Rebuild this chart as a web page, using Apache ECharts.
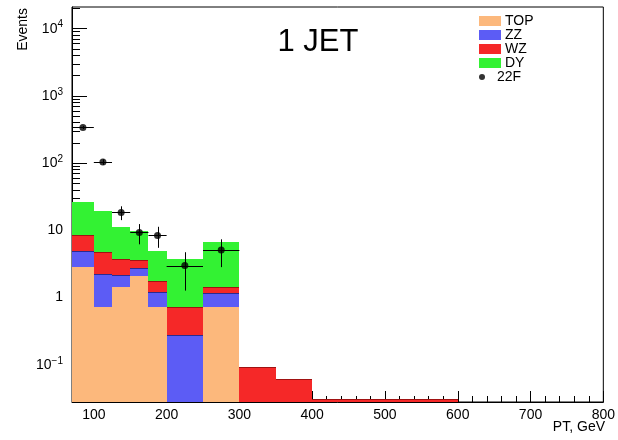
<!DOCTYPE html>
<html>
<head>
<meta charset="utf-8">
<script src="https://cdn.jsdelivr.net/npm/echarts@6/dist/echarts.min.js"></script>
<style>
html,body{margin:0;padding:0;background:#fff;}
#chart{width:618px;height:440px;}
</style>
</head>
<body>
<div id="chart"></div>
<script>
// ---- data ----
var binLo = [70, 100, 125, 150, 175, 200, 250, 300, 350, 400];
var binHi = [100, 125, 150, 175, 200, 250, 300, 350, 400, 600];
var topVals = [2.9, 0.72, 1.46, 2.13, 0.72, 0, 0.72, 0, 0, 0];
var zzVals  = [2.07, 1.51, 0.70, 0.61, 0.50, 0.278, 0.47, 0, 0, 0];
var wzVals  = [3.6, 2.52, 1.61, 0.87, 0.55, 0.456, 0.24, 0.092, 0.061, 0.031];
var dyVals  = [17.5, 14.85, 7.43, 6.25, 3.2, 3.08, 5.17, 0, 0, 0];

var dataX   = [85, 112.5, 137.5, 162.5, 187.5, 225, 275];
var dataLo  = [70, 100, 125, 150, 175, 200, 250];
var dataHi  = [100, 125, 150, 175, 200, 250, 300];
var dataY   = [340, 104, 18.5, 9.3, 8.4, 3.0, 5.1];
var dataErr = [18, 10, 4.3, 3.1, 2.9, 1.73, 2.26];

var xTickLabels = [100, 200, 300, 400, 500, 600, 700, 800];
var yTickValues = [0.1, 1, 10, 100, 1000, 10000];
var yTickLabels = ['{b|10}{s|\u22121}', '1', '10', '{b|10}{s|2}', '{b|10}{s|3}', '{b|10}{s|4}'];

var X_MIN = 70, X_MAX = 800, Y_MIN = 0.028, Y_MAX = 21000;
var FONT = 'Liberation Sans, Arial, Helvetica, sans-serif';

// minor tick positions
var xMinor = [];
for (var v = 80; v < X_MAX; v += 20) xMinor.push(v);
var yMinor = [];
for (var e = -2; e <= 4; e++) {
  for (var m = 2; m <= 9; m++) {
    var val = m * Math.pow(10, e);
    if (val > Y_MIN && val < Y_MAX) yMinor.push(val);
  }
}

// stacking
var comps = [
  {name: 'TOP', vals: topVals, color: '#fcb87c', edge: null},
  {name: 'ZZ',  vals: zzVals,  color: '#5c5cf5', edge: '#2a2a90'},
  {name: 'WZ',  vals: wzVals,  color: '#f52828', edge: '#a01212'},
  {name: 'DY',  vals: dyVals,  color: '#33f233', edge: null}
];
var cum = binLo.map(function(){return 0;});
var series = [];
comps.forEach(function(c){
  var d = [];
  for (var i = 0; i < binLo.length; i++) {
    var v = c.vals[i];
    if (v > 0) {
      var base = cum[i] > 0 ? cum[i] : Y_MIN;
      d.push([binLo[i], binHi[i], base, cum[i] + v]);
      cum[i] += v;
    }
  }
  series.push({
    name: c.name,
    type: 'custom',
    clip: true,
    itemStyle: {color: c.color},
    encode: {x: [0, 1], y: [2, 3]},
    data: d,
    renderItem: (function(col, edge){
      return function(params, api){
        var p1 = api.coord([api.value(0), api.value(3)]);
        var p2 = api.coord([api.value(1), api.value(2)]);
        var x1 = Math.round(p1[0]), x2 = Math.round(p2[0]);
        var y1 = Math.round(p1[1]), y2 = Math.round(p2[1]);
        var ch = [{
          type: 'rect',
          shape: {x: x1, y: y1, width: x2 - x1, height: y2 - y1},
          style: {fill: col}
        }];
        if (edge) {
          ch.push({type: 'line', shape: {x1: x1, y1: y1 + 0.5, x2: x2, y2: y1 + 0.5},
                   style: {stroke: edge, lineWidth: 1}});
        }
        return {type: 'group', children: ch};
      };
    })(c.color, c.edge)
  });
});

// error bars for data
var errData = dataX.map(function(x, i){ return [x, dataY[i], dataLo[i], dataHi[i], dataErr[i]]; });
series.push({
  name: '22F err',
  type: 'custom',
  clip: true,
  encode: {x: 0, y: 1},
  data: errData,
  renderItem: function(params, api){
    var x = api.value(0), y = api.value(1), lo = api.value(2), hi = api.value(3), er = api.value(4);
    var a = api.coord([lo, y]), b = api.coord([hi, y]);
    var c = api.coord([x, Math.max(y - er, Y_MIN)]), d = api.coord([x, y + er]);
    var yy = Math.round(a[1]) + 0.5, xx = Math.round(c[0]) + 0.5;
    return {type: 'group', children: [
      {type: 'line', shape: {x1: a[0], y1: yy, x2: b[0], y2: yy}, style: {stroke: '#000', lineWidth: 1}},
      {type: 'line', shape: {x1: xx, y1: c[1], x2: xx, y2: d[1]}, style: {stroke: '#000', lineWidth: 1}}
    ]};
  }
});
series.push({
  name: '22F',
  type: 'scatter',
  symbol: 'circle',
  symbolSize: 7,
  itemStyle: {color: '#000'},
  data: dataX.map(function(x, i){ return [x, dataY[i]]; })
});

var chart = echarts.init(document.getElementById('chart'), null, {renderer: 'canvas'});
chart.setOption({
  animation: false,
  backgroundColor: '#fff',
  grid: {left: 72, right: 10, top: 7, bottom: 38, show: true, borderColor: '#000', borderWidth: 1, containLabel: false},
  legend: [{
    orient: 'vertical', left: 479, top: 14, padding: 0, itemWidth: 22, itemHeight: 10, itemGap: 0,
    icon: 'rect',
    textStyle: {fontFamily: FONT, fontSize: 14, color: '#000', lineHeight: 13, padding: [0, 0, 0, -1]},
    data: ['TOP', 'ZZ', 'WZ', 'DY'],
    selectedMode: false
  }, {
    orient: 'vertical', left: 479, top: 70, padding: 0, itemWidth: 22, itemHeight: 6, itemGap: 0,
    icon: 'circle',
    textStyle: {fontFamily: FONT, fontSize: 14, color: '#000', lineHeight: 13, padding: [0, 0, 0, -1]},
    data: ['22F'],
    selectedMode: false
  }],
  xAxis: [{
    type: 'value', min: X_MIN, max: X_MAX,
    axisLine: {show: true, lineStyle: {color: '#000', width: 1}},
    axisTick: {show: true, inside: true, length: 11, customValues: xTickLabels, lineStyle: {color: '#000'}},
    axisLabel: {show: true, customValues: xTickLabels, margin: 6, fontFamily: FONT, fontSize: 14, color: '#000'},
    splitLine: {show: false}
  }, {
    type: 'value', min: X_MIN, max: X_MAX, position: 'bottom',
    axisLine: {show: false},
    axisTick: {show: true, inside: true, length: 6, customValues: xMinor, lineStyle: {color: '#000'}},
    axisLabel: {show: false},
    splitLine: {show: false}
  }],
  yAxis: [{
    type: 'log', logBase: 10, min: Y_MIN, max: Y_MAX,
    axisLine: {show: true, lineStyle: {color: '#000', width: 1}},
    axisTick: {show: true, inside: true, length: 15, customValues: yTickValues, lineStyle: {color: '#000'}},
    axisLabel: {
      show: true, customValues: yTickValues, margin: 9, fontFamily: FONT, fontSize: 14, color: '#000',
      formatter: function(v){
        var k = Math.round(Math.log10(v));
        var idx = yTickValues.findIndex(function(t){ return Math.round(Math.log10(t)) === k; });
        return idx >= 0 ? yTickLabels[idx] : '';
      },
      rich: {
        b: {fontFamily: FONT, fontSize: 14, color: '#000', padding: [0, 0, 2, 0], verticalAlign: 'bottom'},
        s: {fontFamily: FONT, fontSize: 10, color: '#000', padding: [0, 0, 8, 0], verticalAlign: 'bottom'}
      }
    },
    splitLine: {show: false}
  }, {
    type: 'log', logBase: 10, min: Y_MIN, max: Y_MAX, position: 'left',
    axisLine: {show: false},
    axisTick: {show: true, inside: true, length: 8, customValues: yMinor, lineStyle: {color: '#000'}},
    axisLabel: {show: false},
    splitLine: {show: false}
  }],
  graphic: [
    {type: 'text', x: 318, y: 42,
     style: {text: '1 JET', fontFamily: FONT, fontSize: 31, fill: '#000', textAlign: 'center', textVerticalAlign: 'middle'}},
    {type: 'text', x: 23, y: 8, rotation: Math.PI / 2,
     style: {text: 'Events', fontFamily: FONT, fontSize: 14, fill: '#000', textAlign: 'right', textVerticalAlign: 'middle'}},
    {type: 'text', x: 605, y: 427,
     style: {text: 'PT, GeV', fontFamily: FONT, fontSize: 14, fill: '#000', textAlign: 'right', textVerticalAlign: 'middle'}}
  ],
  series: series
});
</script>
</body>
</html>
